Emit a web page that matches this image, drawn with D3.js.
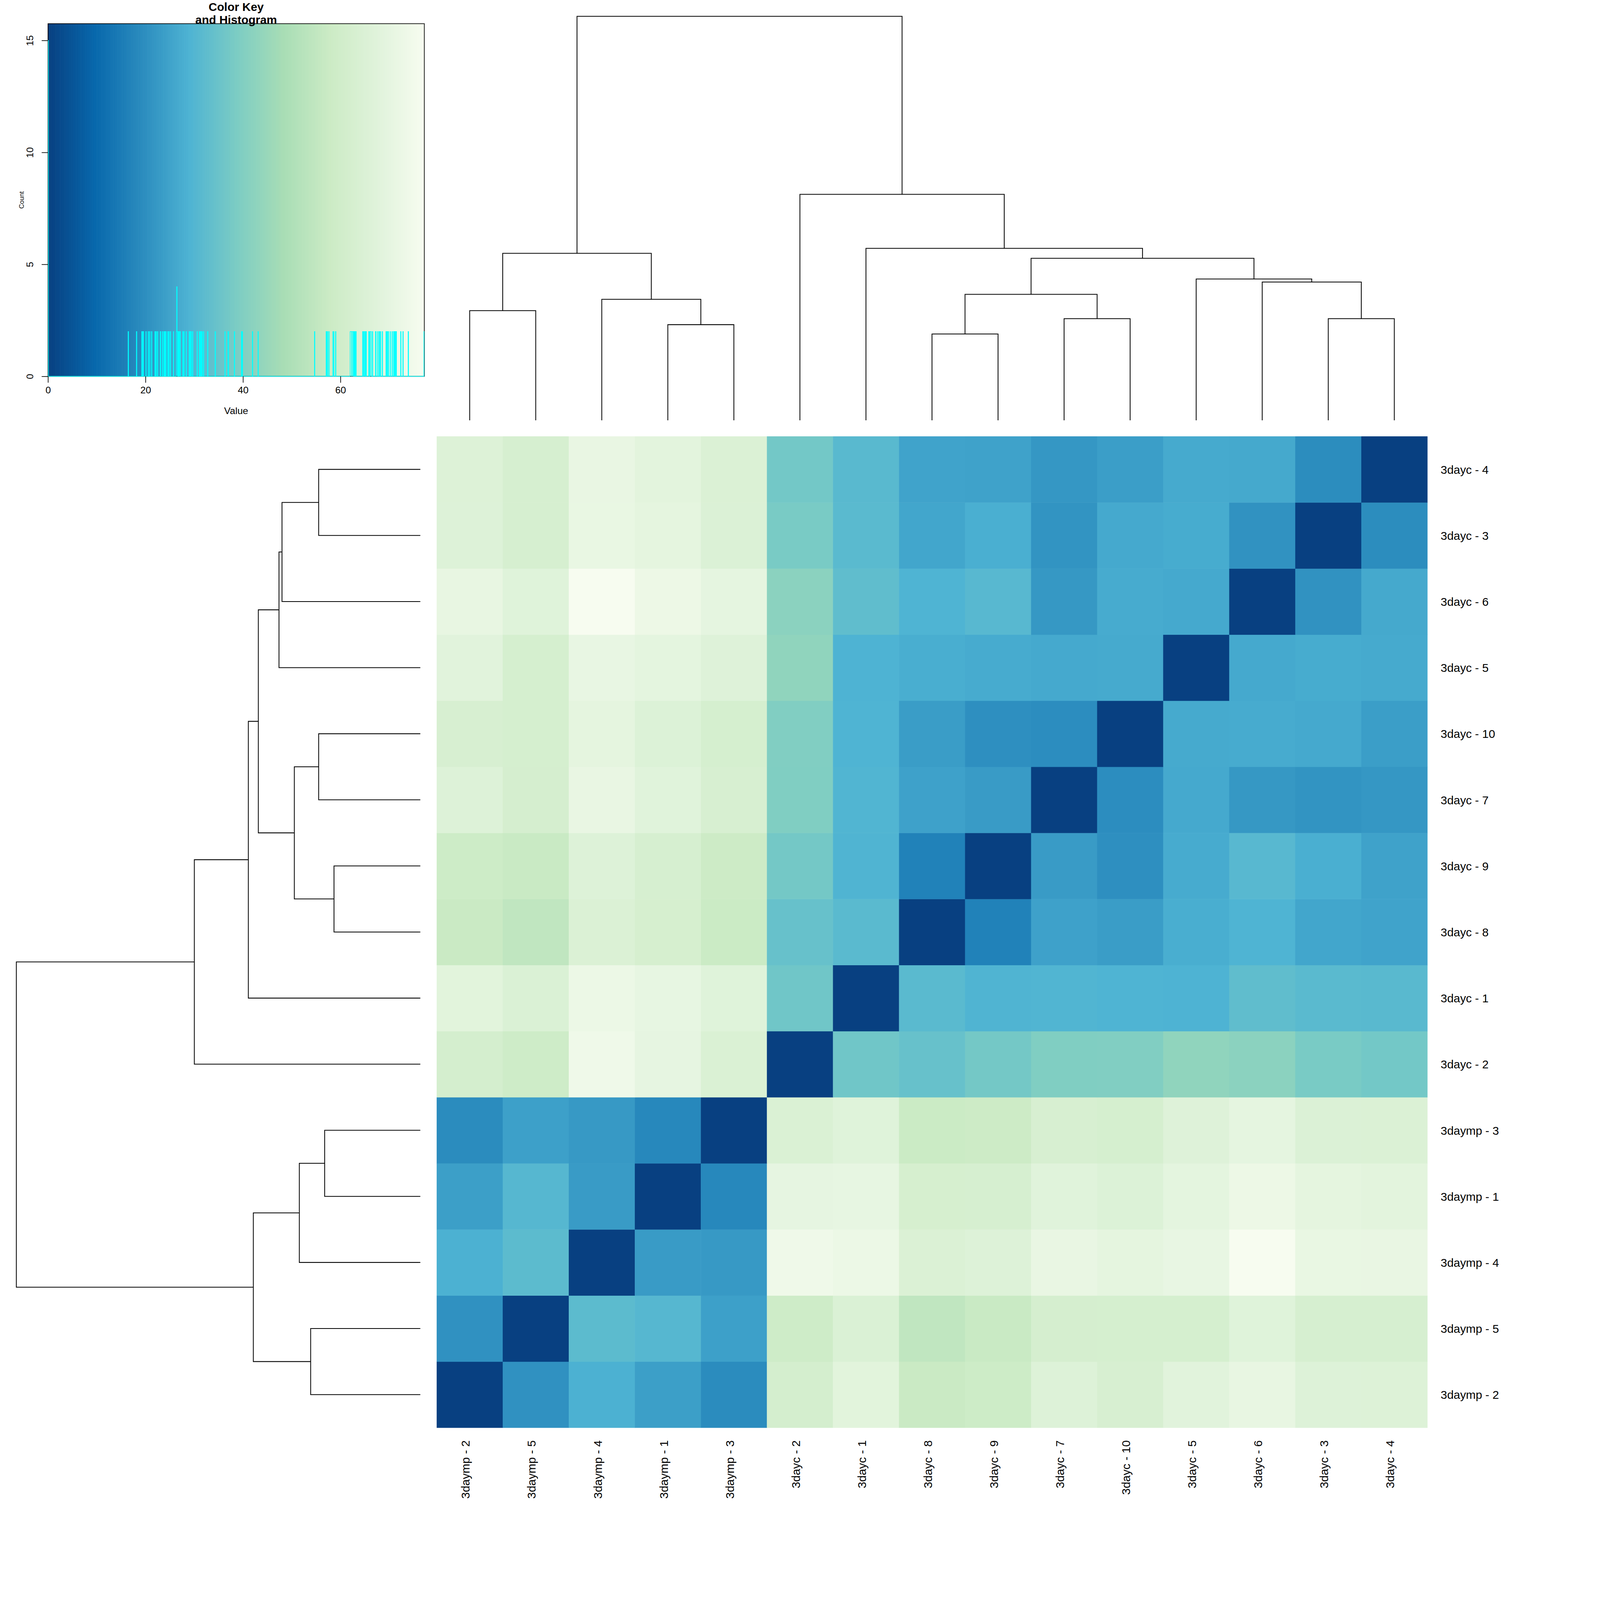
<!DOCTYPE html>
<html>
<head>
<meta charset="utf-8">
<script src="https://cdn.jsdelivr.net/npm/d3@7"></script>
<style>
  html, body { margin: 0; padding: 0; background: #fff; overflow: hidden; }
  svg { display: block; }
  text { font-family: "Liberation Sans", Arial, Helvetica, sans-serif; }
</style>
</head>
<body>
<div id="chart"></div>
<script>
// samples in dendrogram leaf order (left to right, bottom to top for rows)
const labels = ["3daymp - 2", "3daymp - 5", "3daymp - 4", "3daymp - 1", "3daymp - 3",
                "3dayc - 2", "3dayc - 1", "3dayc - 8", "3dayc - 9", "3dayc - 7",
                "3dayc - 10", "3dayc - 5", "3dayc - 6", "3dayc - 3", "3dayc - 4"];

// distance matrix, rows and columns in the order of labels
const dist = [
  [0, 20.6, 28.4, 24.0, 19.25, 62.0, 68.2, 57.3, 58.6, 66.1, 63.2, 68.0, 70.9, 66.3, 65.9],
  [20.6, 0, 31.92, 30.6, 24.2, 59.0, 64.8, 54.7, 57.1, 62.1, 62.25, 62.4, 67.3, 62.55, 62.7],
  [28.4, 31.92, 0, 23.05, 22.5, 73.9, 72.4, 64.9, 66.2, 71.3, 69.6, 71.0, 77.2, 71.45, 71.15],
  [24.0, 30.6, 23.05, 0, 18.2, 70.2, 70.6, 62.5, 62.9, 67.7, 65.8, 69.4, 72.8, 69.5, 68.6],
  [19.25, 24.2, 22.5, 18.2, 0, 64.6, 67.2, 57.6, 58.45, 63.0, 62.15, 66.6, 69.8, 65.3, 65.1],
  [62.0, 59.0, 73.9, 70.2, 64.6, 0, 36.3, 34.3, 37.03, 39.7, 39.85, 43.08, 41.97, 38.23, 36.93],
  [68.2, 64.8, 72.4, 70.6, 67.2, 36.3, 0, 31.63, 29.4, 29.65, 29.17, 28.96, 32.79, 31.47, 31.33],
  [57.3, 54.7, 64.9, 62.5, 57.6, 34.3, 31.63, 0, 16.5, 24.61, 23.5, 27.69, 29.25, 25.77, 25.09],
  [58.6, 57.1, 66.2, 62.9, 58.45, 37.03, 29.4, 16.5, 0, 23.1, 20.1, 27.05, 31.06, 27.9, 24.84],
  [66.1, 62.1, 71.3, 67.7, 63.0, 39.7, 29.65, 24.61, 23.1, 0, 19.6, 26.46, 22.2, 21.3, 22.0],
  [63.2, 62.25, 69.6, 65.8, 62.15, 39.85, 29.17, 23.5, 20.1, 19.6, 0, 26.7, 26.9, 26.46, 23.8],
  [68.0, 62.4, 71.0, 69.4, 66.6, 43.08, 28.96, 27.69, 27.05, 26.46, 26.7, 0, 26.55, 27.12, 26.8],
  [70.9, 67.3, 77.2, 72.8, 69.8, 41.97, 32.79, 29.25, 31.06, 22.2, 26.9, 26.55, 0, 20.9, 26.39],
  [66.3, 62.55, 71.45, 69.5, 65.3, 38.23, 31.47, 25.77, 27.9, 21.3, 26.46, 27.12, 20.9, 0, 19.5],
  [65.9, 62.7, 71.15, 68.6, 65.1, 36.93, 31.33, 25.09, 24.84, 22.0, 23.8, 26.8, 26.39, 19.5, 0]
];

// hclust style merges [left, right, height]; a number points to an earlier merge
const merges = [
  ["3dayc - 3", "3dayc - 4", 30.5],     // 0
  ["3dayc - 6", 0, 41.5],               // 1
  ["3dayc - 5", 1, 42.4],               // 2
  ["3dayc - 8", "3dayc - 9", 25.9],     // 3
  ["3dayc - 7", "3dayc - 10", 30.5],    // 4
  [3, 4, 37.8],                         // 5
  [5, 2, 48.6],                         // 6
  ["3dayc - 1", 6, 51.6],               // 7
  ["3dayc - 2", 7, 67.8],               // 8
  ["3daymp - 2", "3daymp - 5", 32.9],   // 9
  ["3daymp - 1", "3daymp - 3", 28.7],   // 10
  ["3daymp - 4", 10, 36.3],             // 11
  [9, 11, 50.1],                        // 12
  [12, 8, 121.2]                        // 13
];

const keyTicksX = [0, 20, 40, 60];
const keyTicksY = [0, 5, 10, 15];
const N_BREAKS = 1000;

const W = 4800, H = 4800;
const HM = { LEFT: 1310, RIGHT: 4282, TOP: 1309, BOTTOM: 4283 };
const DEND = { BASE: 1261, TOP: 49 };
const KEY = { LEFT: 144, RIGHT: 1273, TOP: 71, BOTTOM: 1129 };
const FONT = 35;

// fit the drawing to whatever the viewport is
const svg = d3.select("#chart")
  .append("svg")
    .attr("viewBox", `0 0 ${W} ${H}`)
    .attr("preserveAspectRatio", "xMinYMin meet")
    .style("width", "100vw")
    .style("height", "100vh");

svg.append("rect").attr("width", W).attr("height", H).attr("fill", "#fff");

const values = dist.flat();
const maxV = d3.max(values);

const colour = d3.scaleLinear()
  .domain(d3.range(9).map(i => maxV * i / 8))
  .range(d3.schemeGnBu[9].slice().reverse());

const x = d3.scaleBand().domain(labels).range([HM.LEFT, HM.RIGHT]);
const y = d3.scaleBand().domain(labels.slice().reverse()).range([HM.TOP, HM.BOTTOM]);

// heatmap cells
const cells = labels.flatMap((r, i) => labels.map((c, j) => ({ row: r, col: c, v: dist[i][j] })));

svg.append("g")
  .selectAll("rect")
  .data(cells)
  .enter().append("rect")
    .attr("x", d => x(d.col))
    .attr("y", d => y(d.row))
    .attr("width", x.bandwidth() + 0.6)
    .attr("height", y.bandwidth() + 0.6)
    .attr("fill", d => colour(d.v));

// row labels
svg.append("g")
  .selectAll("text")
  .data(labels)
  .enter().append("text")
    .attr("x", HM.RIGHT + 40)
    .attr("y", d => y(d) + y.bandwidth() / 2)
    .attr("dy", "0.37em")
    .style("font-size", FONT + "px")
    .text(d => d);

// column labels
svg.append("g")
  .selectAll("text")
  .data(labels)
  .enter().append("text")
    .attr("transform", d => `translate(${x(d) + x.bandwidth() / 2}, ${HM.BOTTOM + 38}) rotate(-90)`)
    .attr("text-anchor", "end")
    .style("font-size", FONT + "px")
    .text(d => d);

// dendrograms
const hs = d3.scaleLinear().domain([0, merges[merges.length - 1][2]]).range([DEND.BASE, DEND.TOP]);

function layout(centre) {
  const nodes = [];
  const get = n => typeof n === "string" ? { c: centre(n), h: 0 } : nodes[n];
  const segs = [];
  merges.forEach(([a, b, h]) => {
    const l = get(a), r = get(b);
    nodes.push({ c: (l.c + r.c) / 2, h: h });
    segs.push({ l: l, r: r, h: h });
  });
  return segs;
}

const colSegs = layout(n => x(n) + x.bandwidth() / 2);
svg.append("g")
  .selectAll("path")
  .data(colSegs)
  .enter().append("path")
    .attr("d", s => `M${s.l.c},${hs(s.l.h)}V${hs(s.h)}H${s.r.c}V${hs(s.r.h)}`)
    .attr("fill", "none")
    .attr("stroke", "#000")
    .attr("stroke-width", 2.4);

const rowSegs = layout(n => y(n) + y.bandwidth() / 2);
svg.append("g")
  .selectAll("path")
  .data(rowSegs)
  .enter().append("path")
    .attr("d", s => `M${hs(s.l.h)},${s.l.c}H${hs(s.h)}V${s.r.c}H${hs(s.r.h)}`)
    .attr("fill", "none")
    .attr("stroke", "#000")
    .attr("stroke-width", 2.4);

// colour key and histogram
const kx = d3.scaleLinear().domain([0, maxV]).range([KEY.LEFT, KEY.RIGHT]);

const bins = d3.bin()
  .domain([0, maxV])
  .thresholds(d3.range(1, N_BREAKS).map(i => maxV * i / N_BREAKS))(values);

const ky = d3.scaleLinear()
  .domain([0, d3.max(bins, b => b.length) * 1.05])
  .range([KEY.BOTTOM, KEY.TOP]);

const key = svg.append("g");

const ramp = d3.range(400).map(i => maxV * i / 400);
key.append("g")
  .selectAll("rect")
  .data(ramp)
  .enter().append("rect")
    .attr("x", d => kx(d))
    .attr("y", KEY.TOP)
    .attr("width", (KEY.RIGHT - KEY.LEFT) / 400 + 0.8)
    .attr("height", KEY.BOTTOM - KEY.TOP)
    .attr("fill", d => colour(d + maxV / 800));

key.append("rect")
  .attr("x", KEY.LEFT)
  .attr("y", KEY.TOP)
  .attr("width", KEY.RIGHT - KEY.LEFT)
  .attr("height", KEY.BOTTOM - KEY.TOP)
  .attr("fill", "none")
  .attr("stroke", "#000")
  .attr("stroke-width", 2);

const steps = bins.map(b => [b.x0, b.length]);
steps.push([bins[bins.length - 1].x1, bins[bins.length - 1].length]);

key.append("path")
  .datum(steps)
  .attr("d", d3.line().x(d => kx(d[0])).y(d => ky(d[1])).curve(d3.curveStepAfter))
  .attr("fill", "none")
  .attr("stroke", "#00ffff")
  .attr("stroke-width", 2);

const xAxisCall = d3.axisBottom(kx).tickValues(keyTicksX).tickSize(19).tickPadding(12).tickFormat(d3.format("d"));
const gx = key.append("g")
  .attr("transform", `translate(0, ${KEY.BOTTOM})`)
  .call(xAxisCall);
gx.select(".domain").remove();
gx.selectAll("line").attr("stroke-width", 2);
gx.selectAll("text").style("font-size", "29px").attr("font-family", null);

const yAxisCall = d3.axisLeft(ky).tickValues(keyTicksY).tickSize(19).tickFormat(d3.format("d"));
const gy = key.append("g")
  .attr("transform", `translate(${KEY.LEFT}, 0)`)
  .call(yAxisCall);
gy.select(".domain").remove();
gy.selectAll("line").attr("stroke-width", 2);
gy.selectAll("text")
  .attr("transform", "rotate(-90)")
  .attr("x", 0)
  .attr("y", -44)
  .attr("dy", 0)
  .attr("text-anchor", "middle")
  .attr("font-family", null)
  .style("font-size", "29px");

key.append("text")
  .attr("x", (KEY.LEFT + KEY.RIGHT) / 2)
  .attr("y", 1242)
  .attr("text-anchor", "middle")
  .style("font-size", "29px")
  .text("Value");

key.append("text")
  .attr("transform", `translate(72, ${(KEY.TOP + KEY.BOTTOM) / 2}) rotate(-90)`)
  .attr("text-anchor", "middle")
  .style("font-size", "19.5px")
  .text("Count");

key.append("text")
  .attr("x", (KEY.LEFT + KEY.RIGHT) / 2)
  .attr("y", 33)
  .attr("text-anchor", "middle")
  .style("font-size", "35px")
  .style("font-weight", "bold")
  .text("Color Key");

key.append("text")
  .attr("x", (KEY.LEFT + KEY.RIGHT) / 2)
  .attr("y", 71)
  .attr("text-anchor", "middle")
  .style("font-size", "35px")
  .style("font-weight", "bold")
  .text("and Histogram");
</script>
</body>
</html>
